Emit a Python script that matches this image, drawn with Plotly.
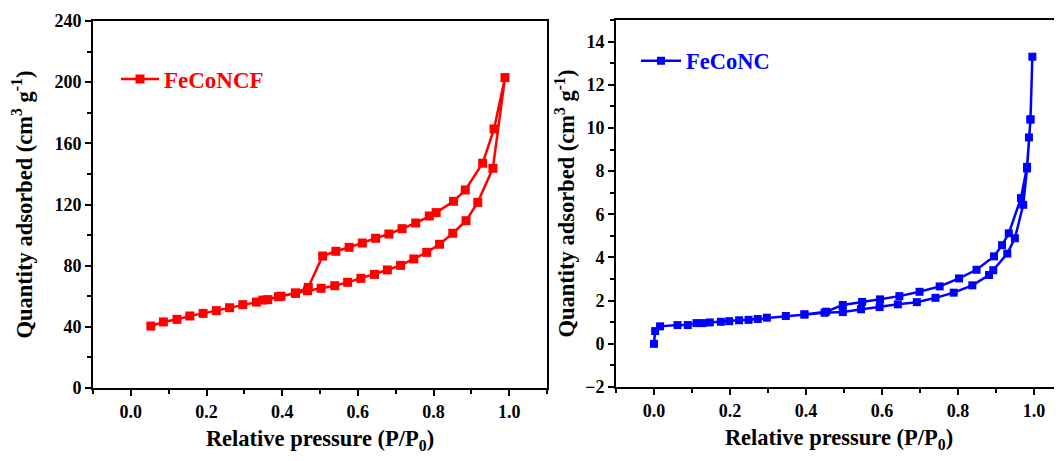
import plotly.graph_objects as go

# FeCoNCF isotherm (left panel)
fcf_ads_x = [0.053, 0.086, 0.122, 0.156, 0.191, 0.226, 0.261, 0.296, 0.332, 0.349, 0.390, 0.435, 0.467,
             0.503, 0.539, 0.573, 0.608, 0.644, 0.678, 0.713, 0.748, 0.782, 0.816, 0.851, 0.886, 0.917,
             0.957, 0.989]
fcf_ads_y = [40.5, 43.2, 44.9, 47.1, 48.8, 50.6, 52.5, 54.5, 56.2, 57.5, 59.7, 61.9, 63.6,
             65.2, 66.9, 69.1, 71.7, 74.3, 77.2, 80.2, 84.4, 88.7, 94.0, 101.2, 109.4, 121.4,
             143.7, 203.0]
fcf_des_x = [0.960, 0.930, 0.884, 0.853, 0.807, 0.789, 0.753, 0.717, 0.682, 0.647, 0.612, 0.577,
             0.542, 0.507, 0.469, 0.435, 0.397, 0.362]
fcf_des_y = [169.4, 147.0, 129.5, 122.1, 114.7, 112.5, 107.9, 104.2, 100.7, 97.9, 94.8, 92.0,
             89.4, 86.3, 65.8, 62.2, 60.0, 57.8]

# FeCoNC isotherm (right panel)
fc_ads_x = [0.0, 0.003, 0.016, 0.062, 0.089, 0.112, 0.128, 0.147, 0.176, 0.198, 0.224, 0.249, 0.273,
            0.297, 0.347, 0.396, 0.449, 0.497, 0.545, 0.594, 0.642, 0.692, 0.741, 0.789, 0.838, 0.882,
            0.893, 0.930, 0.950, 0.972, 0.982, 0.987, 0.991, 0.996]
fc_ads_y = [0.0, 0.59, 0.81, 0.87, 0.87, 0.96, 0.96, 0.99, 1.02, 1.05, 1.09, 1.11, 1.15,
            1.21, 1.29, 1.36, 1.44, 1.47, 1.60, 1.70, 1.83, 1.93, 2.13, 2.37, 2.71, 3.19,
            3.41, 4.18, 4.89, 6.44, 8.12, 9.56, 10.39, 13.30]
fc_des_x = [0.991, 0.982, 0.966, 0.934, 0.916, 0.895, 0.849, 0.803, 0.752, 0.699, 0.646, 0.595,
            0.548, 0.497, 0.453, 0.396]
fc_des_y = [10.4, 8.2, 6.75, 5.12, 4.57, 4.05, 3.43, 3.03, 2.66, 2.41, 2.21, 2.06,
            1.94, 1.80, 1.49, 1.36]

x_ticks = [0.0, 0.2, 0.4, 0.6, 0.8, 1.0]
x_ticklabels = ["0.0", "0.2", "0.4", "0.6", "0.8", "1.0"]
left_y_ticks = [0, 40, 80, 120, 160, 200, 240]
right_y_ticks = [-2, 0, 2, 4, 6, 8, 10, 12, 14]

FONT = "Liberation Serif, Times New Roman, serif"
W, H = 1062, 461
OFF = 8  # page body margin offset

fig = go.Figure()
fig.add_trace(go.Scatter(
    x=fcf_ads_x + fcf_des_x, y=fcf_ads_y + fcf_des_y, mode="lines+markers",
    name="FeCoNCF", showlegend=True, line=dict(color="#ff0000", width=2.5),
    marker=dict(symbol="square", size=9, color="#ff0000"),
    xaxis="x", yaxis="y", legend="legend"))
fig.add_trace(go.Scatter(
    x=fc_ads_x + fc_des_x, y=fc_ads_y + fc_des_y, mode="lines+markers",
    name="FeCoNC", showlegend=True, line=dict(color="#0000ff", width=2.5),
    marker=dict(symbol="square", size=8, color="#0000ff"),
    xaxis="x2", yaxis="y2", legend="legend2"))

tickfont = dict(family=FONT, size=18, color="black", weight="bold")
titlefont = dict(family=FONT, size=22.5, color="black", weight="bold")

def xax(domain, rng, anchor):
    return dict(domain=domain, range=rng, anchor=anchor, automargin=False,
                showgrid=False, zeroline=False,
                showline=True, linecolor="black", linewidth=2, mirror=True,
                ticks="outside", ticklen=6, tickwidth=2, tickcolor="black",
                tickvals=x_ticks, ticktext=x_ticklabels, tickfont=tickfont,
                minor=dict(ticks="outside", ticklen=4, tickwidth=1.5, tickcolor="black", dtick=0.1, tick0=0),
                title=dict(text="Relative pressure (P/P<sub>0</sub>)", font=titlefont, standoff=10))

def yax(domain, rng, ticks, minor_dtick, anchor, mirror, standoff):
    return dict(domain=domain, range=rng, anchor=anchor, automargin=False,
                showgrid=False, zeroline=False,
                showline=True, linecolor="black", linewidth=2, mirror=mirror,
                ticks="outside", ticklen=6, tickwidth=2, tickcolor="black",
                tickvals=ticks, tickfont=tickfont,
                minor=dict(ticks="outside", ticklen=4, tickwidth=1.5, tickcolor="black",
                           dtick=minor_dtick, tick0=0),
                title=dict(text="Quantity adsorbed (cm<sup>3</sup> g<sup>-1</sup>)", font=titlefont,
                           standoff=standoff))

def xd(a, b):
    return [(a - OFF) / W, min((b - OFF) / W, 1.0)]

def yd(top, bottom):
    return [(H - (bottom - OFF)) / H, (H - (top - OFF)) / H]

fig.update_layout(
    width=W, height=H, margin=dict(l=0, r=0, t=0, b=0, autoexpand=False),
    paper_bgcolor="white", plot_bgcolor="white", showlegend=True,
    xaxis=xax(xd(93, 547), [-0.1, 1.1], "y"),
    yaxis=yax(yd(21, 388), [0, 240], left_y_ticks, 20, "x", True, 16),
    xaxis2=xax(xd(616, 1062), [-0.1, 1.074], "y2"),
    yaxis2=yax(yd(20, 387), [-2, 15], right_y_ticks, 1, "x2", False, 4),
    legend=dict(x=(116 - OFF) / W, y=(H - (79 - OFF)) / H, xanchor="left", yanchor="middle",
                bgcolor="rgba(0,0,0,0)", itemwidth=38,
                font=dict(family=FONT, size=23, color="#ff0000", weight="bold")),
    legend2=dict(x=(636 - OFF) / W, y=(H - (61 - OFF)) / H, xanchor="left", yanchor="middle",
                 bgcolor="rgba(0,0,0,0)", itemwidth=40,
                 font=dict(family=FONT, size=22.5, color="#0000ff", weight="bold")),
)

fig.write_html("out.html")
